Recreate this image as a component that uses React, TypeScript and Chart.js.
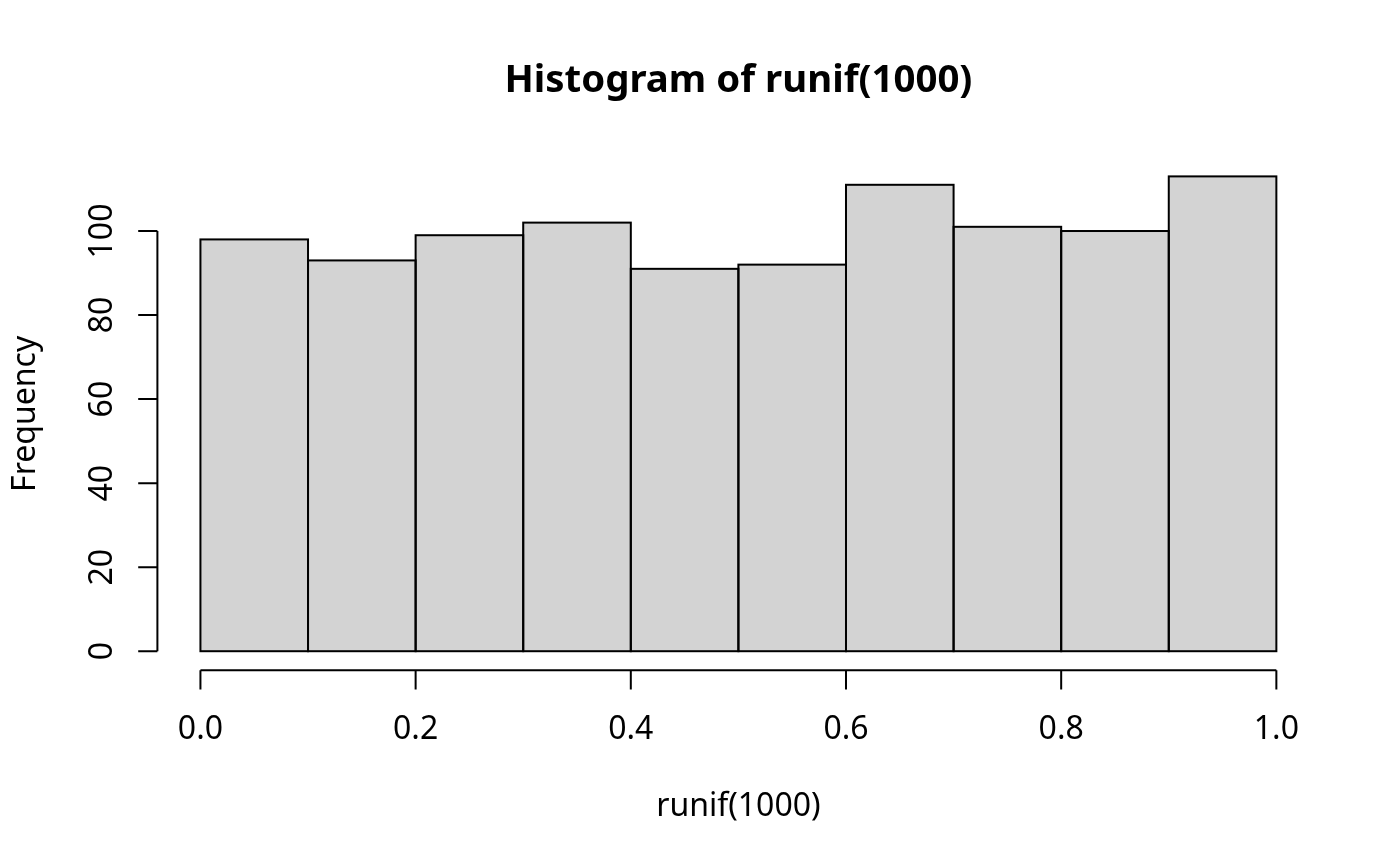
import React, { useEffect, useRef } from "react";
import { Chart, registerables } from "chart.js";

Chart.register(...registerables);

// ---- data ----
const BIN_MIDS = [0.05, 0.15, 0.25, 0.35, 0.45, 0.55, 0.65, 0.75, 0.85, 0.95];
const COUNTS = [98, 93, 99, 102, 91, 92, 111, 101, 100, 113];
const X_TICKS = [0, 0.2, 0.4, 0.6, 0.8, 1.0];
const X_TICK_LABELS = ["0.0", "0.2", "0.4", "0.6", "0.8", "1.0"];
const Y_TICKS = [0, 20, 40, 60, 80, 100];
const Y_TICK_LABELS = ["0", "20", "40", "60", "80", "100"];
const TITLE = "Histogram of runif(1000)";
const X_LABEL = "runif(1000)";
const Y_LABEL = "Frequency";

const FONT = '"Noto Sans", "Open Sans", sans-serif';
const W = 1400;
const H = 866;

const rAxesPlugin = {
  id: "rAxes",
  afterDatasetsDraw(chart: any) {
    const ctx = chart.ctx as CanvasRenderingContext2D;
    const meta = chart.getDatasetMeta(0);
    ctx.save();
    ctx.strokeStyle = "#000";
    ctx.lineWidth = 2;
    meta.data.forEach((el: any) => {
      const p = el.getProps(["x", "y", "base", "width"], true);
      ctx.strokeRect(p.x - p.width / 2, p.y, p.width, p.base - p.y);
    });
    ctx.restore();
  },
  afterDraw(chart: any) {
    const ctx = chart.ctx as CanvasRenderingContext2D;
    const area = chart.chartArea;
    const xs = chart.scales.x;
    const ys = chart.scales.y;
    const tick = 19.2;
    ctx.save();
    ctx.strokeStyle = "#000";
    ctx.fillStyle = "#000";
    ctx.lineWidth = 2;
    ctx.lineCap = "butt";

    // x axis
    const ay = area.bottom;
    ctx.beginPath();
    ctx.moveTo(xs.getPixelForValue(X_TICKS[0]), ay);
    ctx.lineTo(xs.getPixelForValue(X_TICKS[X_TICKS.length - 1]), ay);
    X_TICKS.forEach((v) => {
      const px = xs.getPixelForValue(v);
      ctx.moveTo(px, ay);
      ctx.lineTo(px, ay + tick);
    });
    ctx.stroke();
    ctx.font = `32px ${FONT}`;
    ctx.textAlign = "center";
    ctx.textBaseline = "alphabetic";
    X_TICKS.forEach((v, i) => {
      ctx.fillText(X_TICK_LABELS[i], xs.getPixelForValue(v), 739);
    });

    // y axis
    const ax = area.left;
    ctx.beginPath();
    ctx.moveTo(ax, ys.getPixelForValue(Y_TICKS[0]));
    ctx.lineTo(ax, ys.getPixelForValue(Y_TICKS[Y_TICKS.length - 1]));
    Y_TICKS.forEach((v) => {
      const py = ys.getPixelForValue(v);
      ctx.moveTo(ax, py);
      ctx.lineTo(ax - tick, py);
    });
    ctx.stroke();
    Y_TICKS.forEach((v, i) => {
      ctx.save();
      ctx.translate(112, ys.getPixelForValue(v));
      ctx.rotate(-Math.PI / 2);
      ctx.fillText(Y_TICK_LABELS[i], 0, 0);
      ctx.restore();
    });

    const cx = (area.left + area.right) / 2;
    const cy = (area.top + area.bottom) / 2;

    // axis titles
    ctx.fillText(X_LABEL, cx, 816);
    ctx.save();
    ctx.translate(35, cy);
    ctx.rotate(-Math.PI / 2);
    ctx.fillText(Y_LABEL, 0, 0);
    ctx.restore();

    // main title
    ctx.font = `bold 38.4px ${FONT}`;
    ctx.fillText(TITLE, cx, 92);
    ctx.restore();
  },
};

export default function App() {
  const ref = useRef<HTMLCanvasElement | null>(null);

  useEffect(() => {
    document.body.style.margin = "0";
    let chart: Chart | null = null;
    let cancelled = false;

    const build = () => {
      if (cancelled || !ref.current) return;
      chart = new Chart(ref.current, {
        type: "bar",
        data: {
          datasets: [
            {
              data: BIN_MIDS.map((x, i) => ({ x, y: COUNTS[i] })),
              backgroundColor: "#D3D3D3",
              borderWidth: 0,
              barPercentage: 1,
              categoryPercentage: 1,
            },
          ],
        },
        options: {
          responsive: false,
          animation: false,
          layout: {
            padding: { left: 157.4, right: 80.6, top: 157.4, bottom: 195.8 },
          },
          plugins: {
            legend: { display: false },
            title: { display: false },
            tooltip: { enabled: false },
          },
          scales: {
            x: {
              type: "linear",
              display: false,
              offset: false,
              grid: { offset: false },
              min: -0.04,
              max: 1.04,
              afterBuildTicks: (scale: any) => {
                scale.ticks = X_TICKS.map((value) => ({ value }));
              },
            },
            y: {
              type: "linear",
              display: false,
              min: -4.52,
              max: 117.52,
              afterBuildTicks: (scale: any) => {
                scale.ticks = Y_TICKS.map((value) => ({ value }));
              },
            },
          },
        },
        plugins: [rAxesPlugin],
      } as any);
    };

    const fonts: any = (document as any).fonts;
    if (fonts && fonts.load) {
      Promise.all([
        fonts.load(`32px "Noto Sans"`),
        fonts.load(`bold 38px "Noto Sans"`),
      ])
        .catch(() => undefined)
        .then(build);
    } else {
      build();
    }

    return () => {
      cancelled = true;
      if (chart) chart.destroy();
    };
  }, []);

  return (
    <div style={{ width: W, height: H, background: "#fff" }}>
      <canvas ref={ref} width={W} height={H} style={{ display: "block" }} />
    </div>
  );
}
